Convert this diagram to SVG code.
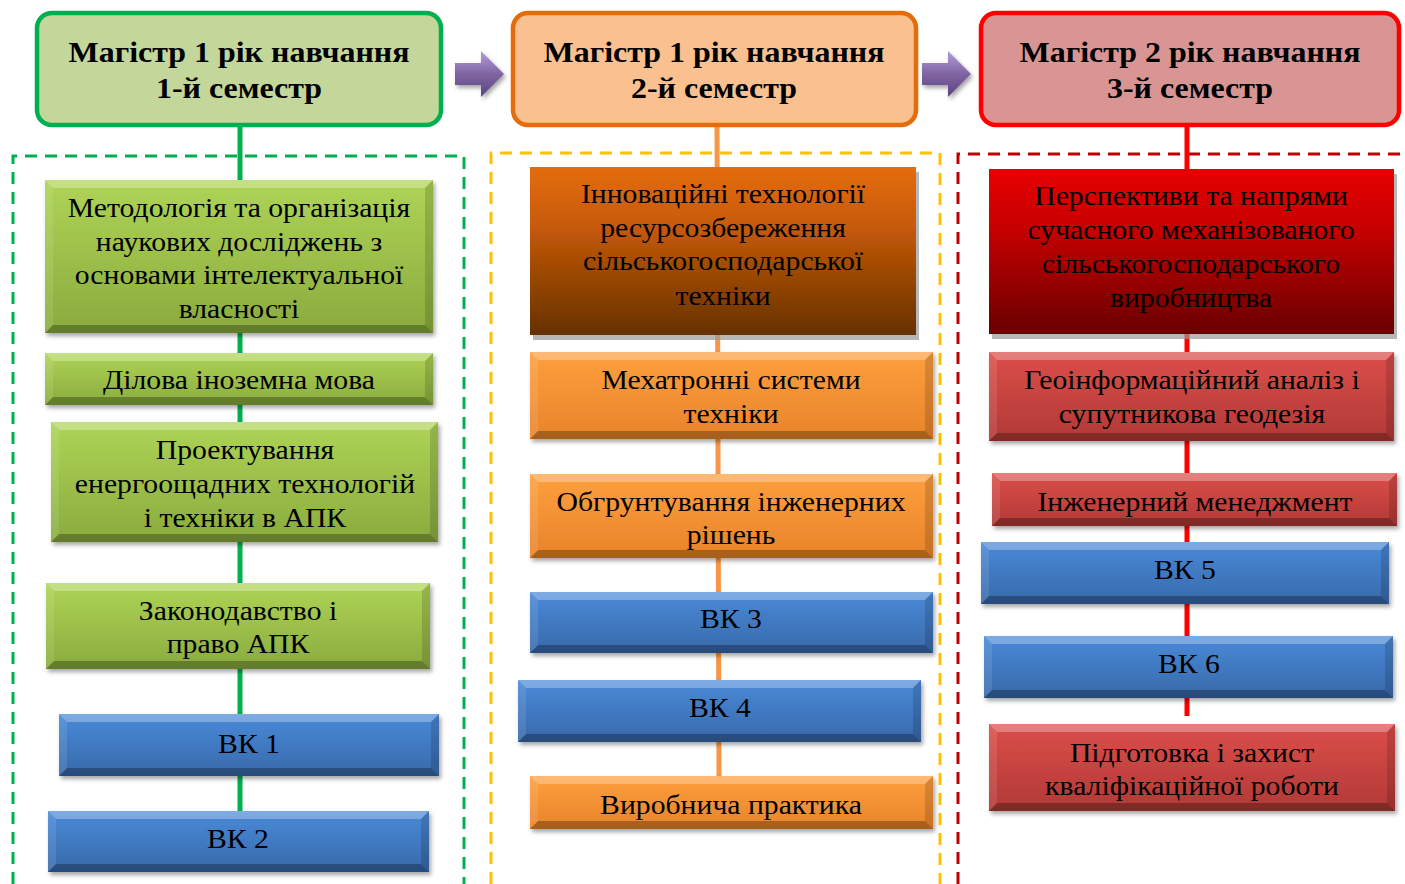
<svg xmlns="http://www.w3.org/2000/svg" width="1405" height="884" viewBox="0 0 1405 884">
<defs>
<linearGradient id="gG" x1="0" y1="0" x2="0" y2="1"><stop offset="0" stop-color="#aed456"/><stop offset="1" stop-color="#8aab3e"/></linearGradient>
<linearGradient id="gB" x1="0" y1="0" x2="0" y2="1"><stop offset="0" stop-color="#4a8ad8"/><stop offset="1" stop-color="#3769aa"/></linearGradient>
<linearGradient id="gO" x1="0" y1="0" x2="0" y2="1"><stop offset="0" stop-color="#fda03e"/><stop offset="1" stop-color="#e8832a"/></linearGradient>
<linearGradient id="gR" x1="0" y1="0" x2="0" y2="1"><stop offset="0" stop-color="#dc4e4a"/><stop offset="1" stop-color="#b13936"/></linearGradient>
<linearGradient id="gOD" x1="0" y1="0" x2="0" y2="1"><stop offset="0" stop-color="#e46c0a"/><stop offset="0.35" stop-color="#c75a08"/><stop offset="1" stop-color="#653100"/></linearGradient>
<linearGradient id="gRD" x1="0" y1="0" x2="0" y2="1"><stop offset="0" stop-color="#e60000"/><stop offset="0.35" stop-color="#c80000"/><stop offset="1" stop-color="#680000"/></linearGradient>
<linearGradient id="gA" x1="0" y1="0" x2="0" y2="1"><stop offset="0" stop-color="#b39ddb"/><stop offset="0.5" stop-color="#8064a2"/><stop offset="1" stop-color="#5a4480"/></linearGradient>
<filter id="sh" x="-5%" y="-10%" width="115%" height="130%"><feDropShadow dx="2" dy="3" stdDeviation="2" flood-color="#000" flood-opacity="0.35"/></filter>
<filter id="shf" x="-5%" y="-10%" width="115%" height="130%"><feDropShadow dx="3" dy="5" stdDeviation="0.6" flood-color="#999" flood-opacity="0.7"/></filter>
</defs>
<style>
.hd{stroke-width:4.5}
.ht{font-family:'Liberation Serif',serif;font-weight:bold;font-size:30px;text-anchor:middle;fill:#000}
.t{font-family:'Liberation Serif',serif;font-size:27px;text-anchor:middle;fill:#000}
.bt{fill:#fff;fill-opacity:0.28}
.bb{fill:#000;fill-opacity:0.28}
.bl{fill:#fff;fill-opacity:0.1}
.br{fill:#000;fill-opacity:0.14}
.dash{fill:none;stroke-width:3;stroke-dasharray:12 8}
.ln{stroke-width:5;fill:none}
</style>
<rect width="1405" height="884" fill="#fff"/>

<g id="frames">
<path class="dash" stroke="#00b050" d="M13,884V156H464V884"/>
<path class="dash" stroke="#ffc000" d="M491,884V153H940V884"/>
<path class="dash" stroke="#c00000" d="M958,884V154H1405"/>
</g>

<g id="connectors">
<line class="ln" stroke="#00b050" x1="240" y1="125" x2="240" y2="812"/>
<line class="ln" stroke="#f79646" x1="717" y1="125" x2="719" y2="778"/>
<line class="ln" stroke="#ff0000" x1="1187" y1="125" x2="1187" y2="716"/>
<g id="arrow1" filter="url(#sh)"><path fill="url(#gA)" d="M455,63H481V51L504,74L481,97V85H455z"/></g>
<g id="arrow2" filter="url(#sh)"><path fill="url(#gA)" d="M922,63H948V51L971,74L948,97V85H922z"/></g>
</g>

<g id="h1"><rect class="hd" x="37" y="13" width="404" height="112" rx="15" fill="#c4d79b" stroke="#00b050"/><g transform="translate(239,0) scale(1.065,1)"><text class="ht" x="0" y="62">Магістр 1 рік навчання</text><text class="ht" x="0" y="98">1-й семестр</text></g></g>
<g id="h2"><rect class="hd" x="513" y="13" width="403" height="112" rx="15" fill="#fac090" stroke="#e46c0a"/><g transform="translate(714,0) scale(1.065,1)"><text class="ht" x="0" y="62">Магістр 1 рік навчання</text><text class="ht" x="0" y="98">2-й семестр</text></g></g>
<g id="h3"><rect class="hd" x="981" y="13" width="418" height="112" rx="15" fill="#d99594" stroke="#ff0000"/><g transform="translate(1190,0) scale(1.065,1)"><text class="ht" x="0" y="62">Магістр 2 рік навчання</text><text class="ht" x="0" y="98">3-й семестр</text></g></g>

<g id="g1"><g transform="translate(45,180)" filter="url(#sh)"><rect width="388" height="153" fill="url(#gG)"/><path class="bt" d="M0,0H388l-8,8H8z"/><path class="bb" d="M0,153H388l-8,-8H8z"/><path class="bl" d="M0,0V153l8,-8V8z"/><path class="br" d="M388,0V153l-8,-8V8z"/></g>
<g transform="translate(239,0) scale(1.1,1)"><text class="t" x="0" y="217">Методологія та організація</text><text class="t" x="0" y="251">наукових досліджень з</text><text class="t" x="0" y="284">основами інтелектуальної</text><text class="t" x="0" y="318">власності</text></g></g>
<g id="g2"><g transform="translate(45,353)" filter="url(#sh)"><rect width="388" height="52" fill="url(#gG)"/><path class="bt" d="M0,0H388l-8,8H8z"/><path class="bb" d="M0,52H388l-8,-8H8z"/><path class="bl" d="M0,0V52l8,-8V8z"/><path class="br" d="M388,0V52l-8,-8V8z"/></g>
<g transform="translate(239,0) scale(1.1,1)"><text class="t" x="0" y="389">Ділова іноземна мова</text></g></g>
<g id="g3"><g transform="translate(51,422)" filter="url(#sh)"><rect width="387" height="120" fill="url(#gG)"/><path class="bt" d="M0,0H387l-8,8H8z"/><path class="bb" d="M0,120H387l-8,-8H8z"/><path class="bl" d="M0,0V120l8,-8V8z"/><path class="br" d="M387,0V120l-8,-8V8z"/></g>
<g transform="translate(245,0) scale(1.1,1)"><text class="t" x="0" y="459">Проектування</text><text class="t" x="0" y="493">енергоощадних технологій</text><text class="t" x="0" y="527">і техніки в АПК</text></g></g>
<g id="g4"><g transform="translate(46,583)" filter="url(#sh)"><rect width="384" height="86" fill="url(#gG)"/><path class="bt" d="M0,0H384l-8,8H8z"/><path class="bb" d="M0,86H384l-8,-8H8z"/><path class="bl" d="M0,0V86l8,-8V8z"/><path class="br" d="M384,0V86l-8,-8V8z"/></g>
<g transform="translate(238,0) scale(1.1,1)"><text class="t" x="0" y="620">Законодавство і</text><text class="t" x="0" y="653">право АПК</text></g></g>
<g id="g5"><g transform="translate(59,714)" filter="url(#sh)"><rect width="380" height="62" fill="url(#gB)"/><path class="bt" d="M0,0H380l-8,8H8z"/><path class="bb" d="M0,62H380l-8,-8H8z"/><path class="bl" d="M0,0V62l8,-8V8z"/><path class="br" d="M380,0V62l-8,-8V8z"/></g>
<g transform="translate(249,0) scale(1.1,1)"><text class="t" x="0" y="753">ВК 1</text></g></g>
<g id="g6"><g transform="translate(48,811)" filter="url(#sh)"><rect width="381" height="61" fill="url(#gB)"/><path class="bt" d="M0,0H381l-8,8H8z"/><path class="bb" d="M0,61H381l-8,-8H8z"/><path class="bl" d="M0,0V61l8,-8V8z"/><path class="br" d="M381,0V61l-8,-8V8z"/></g>
<g transform="translate(238,0) scale(1.1,1)"><text class="t" x="0" y="848">ВК 2</text></g></g>

<g id="o1"><rect x="530" y="167" width="386" height="168" fill="url(#gOD)" filter="url(#shf)"/>
<g transform="translate(723,0) scale(1.1,1)"><text class="t" x="0" y="203">Інноваційні технології</text><text class="t" x="0" y="237">ресурсозбереження</text><text class="t" x="0" y="270">сільськогосподарської</text><text class="t" x="0" y="305">техніки</text></g></g>
<g id="o2"><g transform="translate(530,352)" filter="url(#sh)"><rect width="403" height="87" fill="url(#gO)"/><path class="bt" d="M0,0H403l-8,8H8z"/><path class="bb" d="M0,87H403l-8,-8H8z"/><path class="bl" d="M0,0V87l8,-8V8z"/><path class="br" d="M403,0V87l-8,-8V8z"/></g>
<g transform="translate(731,0) scale(1.1,1)"><text class="t" x="0" y="389">Мехатронні системи</text><text class="t" x="0" y="423">техніки</text></g></g>
<g id="o3"><g transform="translate(530,474)" filter="url(#sh)"><rect width="403" height="84" fill="url(#gO)"/><path class="bt" d="M0,0H403l-8,8H8z"/><path class="bb" d="M0,84H403l-8,-8H8z"/><path class="bl" d="M0,0V84l8,-8V8z"/><path class="br" d="M403,0V84l-8,-8V8z"/></g>
<g transform="translate(731,0) scale(1.1,1)"><text class="t" x="0" y="511">Обгрунтування інженерних</text><text class="t" x="0" y="544">рішень</text></g></g>
<g id="o4"><g transform="translate(530,592)" filter="url(#sh)"><rect width="403" height="61" fill="url(#gB)"/><path class="bt" d="M0,0H403l-8,8H8z"/><path class="bb" d="M0,61H403l-8,-8H8z"/><path class="bl" d="M0,0V61l8,-8V8z"/><path class="br" d="M403,0V61l-8,-8V8z"/></g>
<g transform="translate(731,0) scale(1.1,1)"><text class="t" x="0" y="628">ВК 3</text></g></g>
<g id="o5"><g transform="translate(518,680)" filter="url(#sh)"><rect width="403" height="62" fill="url(#gB)"/><path class="bt" d="M0,0H403l-8,8H8z"/><path class="bb" d="M0,62H403l-8,-8H8z"/><path class="bl" d="M0,0V62l8,-8V8z"/><path class="br" d="M403,0V62l-8,-8V8z"/></g>
<g transform="translate(720,0) scale(1.1,1)"><text class="t" x="0" y="717">ВК 4</text></g></g>
<g id="o6"><g transform="translate(530,776)" filter="url(#sh)"><rect width="403" height="53" fill="url(#gO)"/><path class="bt" d="M0,0H403l-8,8H8z"/><path class="bb" d="M0,53H403l-8,-8H8z"/><path class="bl" d="M0,0V53l8,-8V8z"/><path class="br" d="M403,0V53l-8,-8V8z"/></g>
<g transform="translate(731,0) scale(1.1,1)"><text class="t" x="0" y="814">Виробнича практика</text></g></g>

<g id="r1"><rect x="989" y="169" width="405" height="165" fill="url(#gRD)" filter="url(#shf)"/>
<g transform="translate(1191,0) scale(1.1,1)"><text class="t" x="0" y="205">Перспективи та напрями</text><text class="t" x="0" y="239">сучасного механізованого</text><text class="t" x="0" y="273">сільськогосподарського</text><text class="t" x="0" y="307">виробництва</text></g></g>
<g id="r2"><g transform="translate(989,352)" filter="url(#sh)"><rect width="405" height="89" fill="url(#gR)"/><path class="bt" d="M0,0H405l-8,8H8z"/><path class="bb" d="M0,89H405l-8,-8H8z"/><path class="bl" d="M0,0V89l8,-8V8z"/><path class="br" d="M405,0V89l-8,-8V8z"/></g>
<g transform="translate(1192,0) scale(1.1,1)"><text class="t" x="0" y="389">Геоінформаційний аналіз і</text><text class="t" x="0" y="423">супутникова геодезія</text></g></g>
<g id="r3"><g transform="translate(992,473)" filter="url(#sh)"><rect width="405" height="53" fill="url(#gR)"/><path class="bt" d="M0,0H405l-8,8H8z"/><path class="bb" d="M0,53H405l-8,-8H8z"/><path class="bl" d="M0,0V53l8,-8V8z"/><path class="br" d="M405,0V53l-8,-8V8z"/></g>
<g transform="translate(1195,0) scale(1.1,1)"><text class="t" x="0" y="511">Інженерний менеджмент</text></g></g>
<g id="r4"><g transform="translate(981,542)" filter="url(#sh)"><rect width="408" height="62" fill="url(#gB)"/><path class="bt" d="M0,0H408l-8,8H8z"/><path class="bb" d="M0,62H408l-8,-8H8z"/><path class="bl" d="M0,0V62l8,-8V8z"/><path class="br" d="M408,0V62l-8,-8V8z"/></g>
<g transform="translate(1185,0) scale(1.1,1)"><text class="t" x="0" y="579">ВК 5</text></g></g>
<g id="r5"><g transform="translate(984,636)" filter="url(#sh)"><rect width="409" height="62" fill="url(#gB)"/><path class="bt" d="M0,0H409l-8,8H8z"/><path class="bb" d="M0,62H409l-8,-8H8z"/><path class="bl" d="M0,0V62l8,-8V8z"/><path class="br" d="M409,0V62l-8,-8V8z"/></g>
<g transform="translate(1189,0) scale(1.1,1)"><text class="t" x="0" y="673">ВК 6</text></g></g>
<g id="r6"><g transform="translate(989,724)" filter="url(#sh)"><rect width="406" height="87" fill="url(#gR)"/><path class="bt" d="M0,0H406l-8,8H8z"/><path class="bb" d="M0,87H406l-8,-8H8z"/><path class="bl" d="M0,0V87l8,-8V8z"/><path class="br" d="M406,0V87l-8,-8V8z"/></g>
<g transform="translate(1192,0) scale(1.1,1)"><text class="t" x="0" y="762">Підготовка і захист</text><text class="t" x="0" y="795">кваліфікаційної роботи</text></g></g>
</svg>
